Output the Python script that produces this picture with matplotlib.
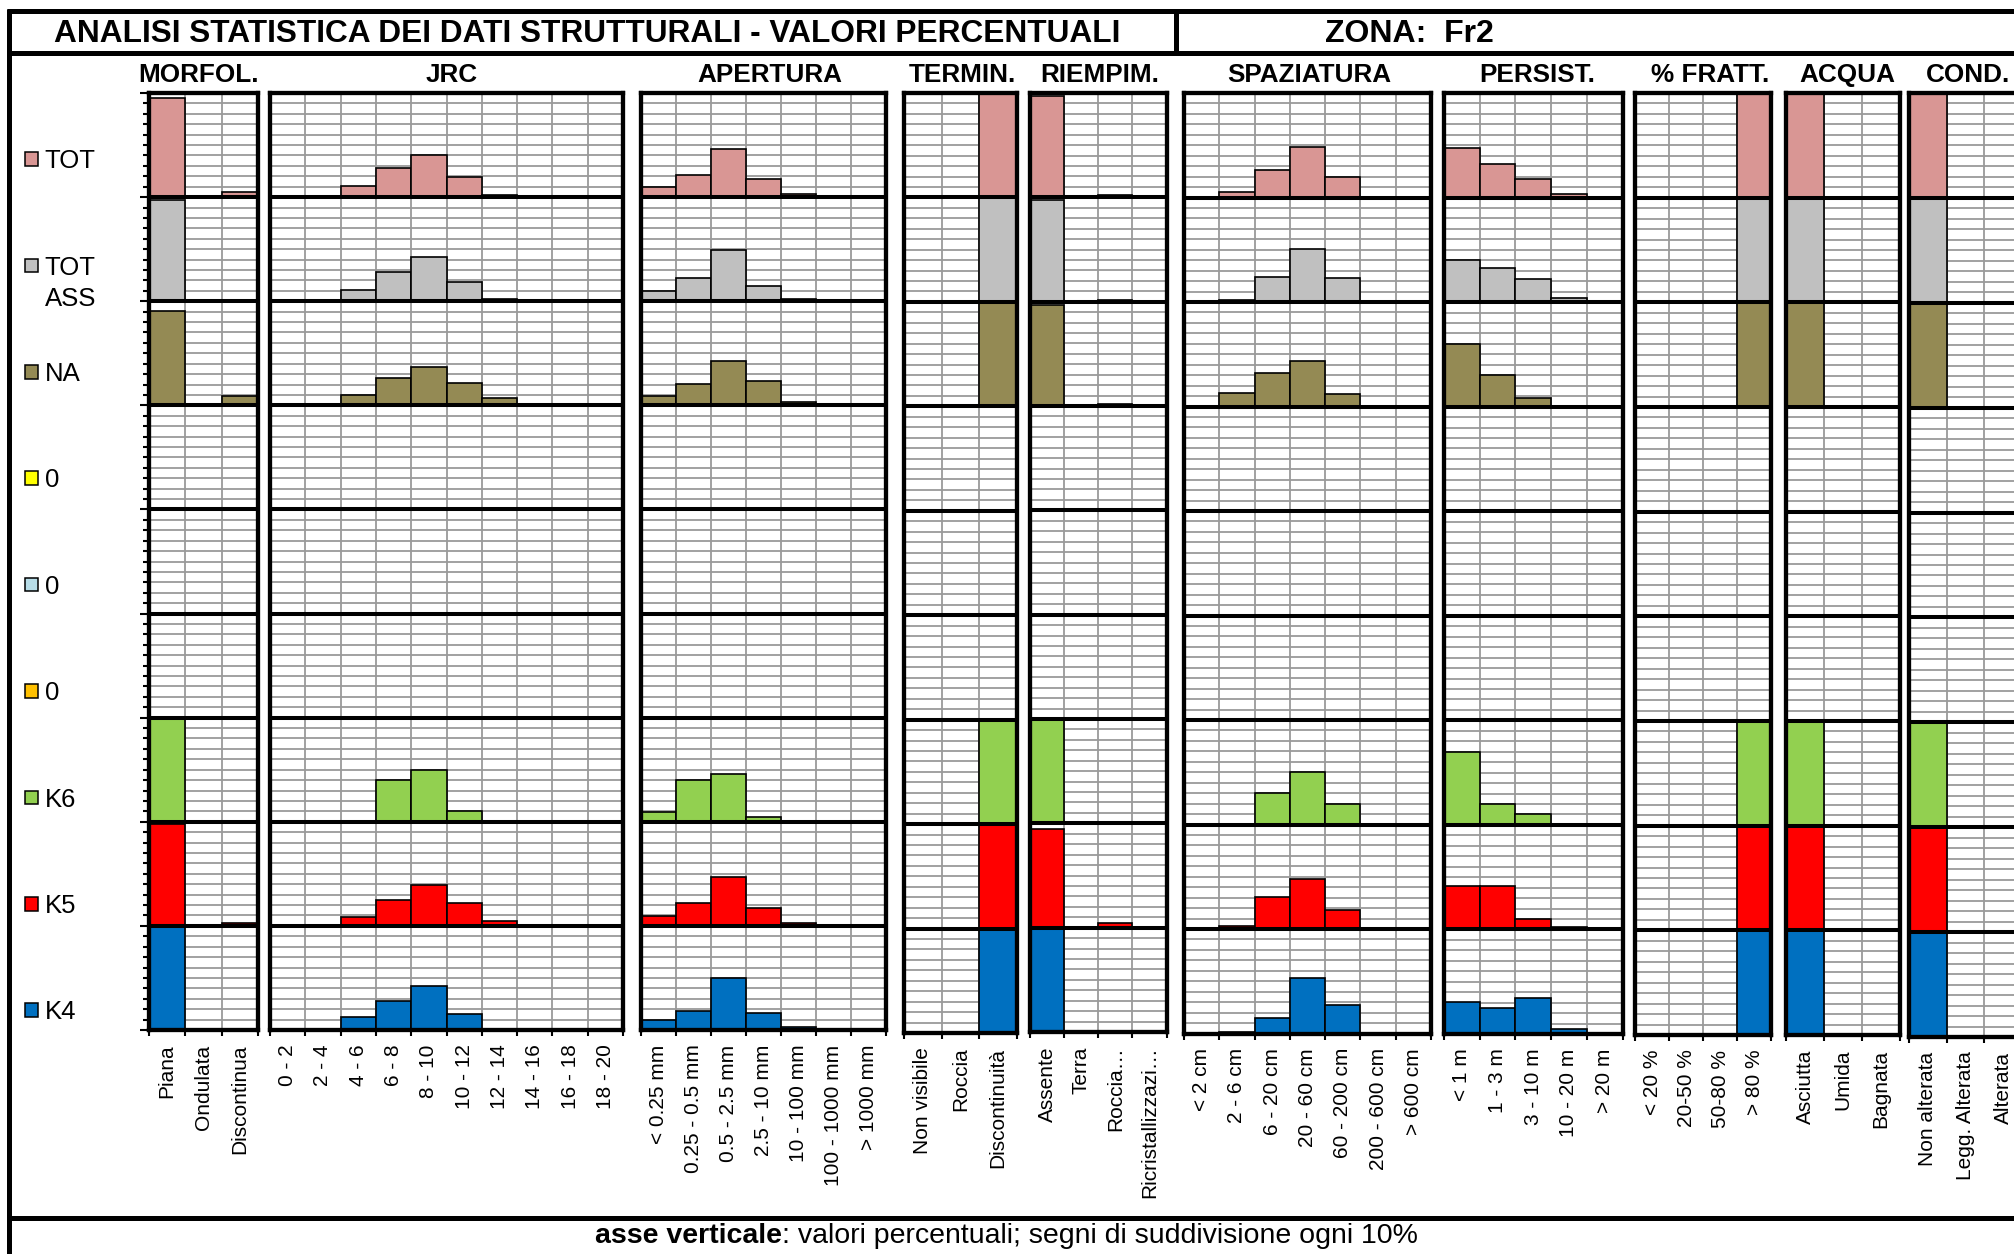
import matplotlib
matplotlib.use("Agg")
import matplotlib.pyplot as plt
from matplotlib.lines import Line2D
from matplotlib.patches import Rectangle
import numpy as np

plt.rcParams['font.family'] = ['Liberation Sans', 'DejaVu Sans']

# ---------------- data ----------------
TITLE = "ANALISI STATISTICA DEI DATI STRUTTURALI - VALORI PERCENTUALI"
ZONE = "ZONA:  Fr2"
FOOT_BOLD = "asse verticale"
FOOT_REST = ": valori percentuali; segni di suddivisione ogni 10%"

ROW_LABELS = ["TOT", "TOT\nASS", "NA", "0", "0", "0", "K6", "K5", "K4"]
ROW_COLORS = ["#D99694", "#C0C0C0", "#948A54", "#FFFF00", "#B7DDE8",
              "#FFC000", "#92D050", "#FF0000", "#0070C0"]

PANEL_TITLES = ["MORFOL.", "JRC", "APERTURA", "TERMIN.", "RIEMPIM.",
                "SPAZIATURA", "PERSIST.", "% FRATT.", "ACQUA", "COND."]

MORFOL_CATS = ["Piana", "Ondulata", "Discontinua"]
MORFOL_VALUES = [
    [95.5, 0, 4.5],
    [97.5, 0, 1.5],
    [91, 0, 8.5],
    [0, 0, 0],
    [0, 0, 0],
    [0, 0, 0],
    [100, 0, 0],
    [97.5, 0, 2.5],
    [98.5, 0, 1],
]

JRC_CATS = ["0 - 2", "2 - 4", "4 - 6", "6 - 8", "8 - 10", "10 - 12",
            "12 - 14", "14 - 16", "16 - 18", "18 - 20"]
JRC_VALUES = [
    [0, 0, 10.5, 27.5, 40.5, 19.5, 2.5, 0, 0, 0],
    [0, 0, 10.5, 28, 42.5, 18, 2, 0, 0, 0],
    [0, 0, 9.5, 26, 37, 21.5, 7, 0, 0, 0],
    [0, 0, 0, 0, 0, 0, 0, 0, 0, 0],
    [0, 0, 0, 0, 0, 0, 0, 0, 0, 0],
    [0, 0, 0, 0, 0, 0, 0, 0, 0, 0],
    [0, 0, 0, 40, 50, 10, 0, 0, 0, 0],
    [0, 0, 9, 25, 39, 22, 5, 0, 0, 0],
    [0, 0, 12.5, 27.5, 42, 15.5, 0, 0, 0, 0],
]

APERT_CATS = ["< 0.25 mm", "0.25 - 0.5 mm", "0.5 - 2.5 mm", "2.5 - 10 mm",
              "10 - 100 mm", "100 - 1000 mm", "> 1000 mm"]
APERT_VALUES = [
    [9.5, 21.5, 46.5, 17.5, 3, 0, 0],
    [9.5, 22.5, 49, 15, 2.5, 0, 0],
    [9, 20.5, 42.5, 23, 3.5, 0, 0],
    [0, 0, 0, 0, 0, 0, 0],
    [0, 0, 0, 0, 0, 0, 0],
    [0, 0, 0, 0, 0, 0, 0],
    [9.5, 40, 45.5, 5, 0, 0, 0],
    [9.5, 22, 47, 17, 3, 0, 0],
    [9.5, 18.5, 50, 16, 3, 0, 0],
]

TERMIN_CATS = ["Non visibile", "Roccia", "Discontinuità"]
TERMIN_VALUES = [
    [0, 0, 100],
    [0, 0, 100],
    [0, 0, 100],
    [0, 0, 0],
    [0, 0, 0],
    [0, 0, 0],
    [0, 0, 100],
    [0, 0, 100],
    [0, 0, 100],
]

RIEMP_CATS = ["Assente", "Terra", "Roccia…", "Ricristallizzazi…"]
RIEMP_VALUES = [
    [97, 0, 2.5, 0],
    [97.5, 0, 1.5, 0],
    [96.5, 0, 1.5, 0],
    [0, 0, 0, 0],
    [0, 0, 0, 0],
    [0, 0, 0, 0],
    [100, 0, 0, 0],
    [95, 0, 4.5, 0],
    [100, 0, 0, 0],
]

SPAZ_CATS = ["< 2 cm", "2 - 6 cm", "6 - 20 cm", "20 - 60 cm", "60 - 200 cm",
             "200 - 600 cm", "> 600 cm"]
SPAZ_VALUES = [
    [0, 5, 26.5, 48.5, 20, 0, 0],
    [0, 2, 23.5, 51, 23, 0, 0],
    [0, 12.5, 32, 43.5, 12, 0, 0],
    [0, 0, 0, 0, 0, 0, 0],
    [0, 0, 0, 0, 0, 0, 0],
    [0, 0, 0, 0, 0, 0, 0],
    [0, 0, 30, 50, 20, 0, 0],
    [0, 2.5, 30.5, 48, 18.5, 0, 0],
    [0, 1.5, 15, 53, 27, 0, 0],
]

PERS_CATS = ["< 1 m", "1 - 3 m", "3 - 10 m", "10 - 20 m", "> 20 m"]
PERS_VALUES = [
    [47, 32, 17.5, 3, 0],
    [40, 32.5, 22.5, 3.5, 0],
    [60, 30.5, 8, 1, 0],
    [0, 0, 0, 0, 0],
    [0, 0, 0, 0, 0],
    [0, 0, 0, 0, 0],
    [70, 20, 10, 0, 0],
    [41.5, 41.5, 10, 2.5, 0],
    [31, 25, 34, 4.5, 0],
]

FRATT_CATS = ["< 20 %", "20-50 %", "50-80 %", "> 80 %"]
FRATT_VALUES = [
    [0, 0, 0, 100],
    [0, 0, 0, 100],
    [0, 0, 0, 100],
    [0, 0, 0, 0],
    [0, 0, 0, 0],
    [0, 0, 0, 0],
    [0, 0, 0, 100],
    [0, 0, 0, 100],
    [0, 0, 0, 100],
]

ACQUA_CATS = ["Asciutta", "Umida", "Bagnata"]
ACQUA_VALUES = [
    [100, 0, 0],
    [100, 0, 0],
    [100, 0, 0],
    [0, 0, 0],
    [0, 0, 0],
    [0, 0, 0],
    [100, 0, 0],
    [100, 0, 0],
    [100, 0, 0],
]

COND_CATS = ["Non alterata", "Legg. Alterata", "Alterata"]
COND_VALUES = [
    [100, 0, 0],
    [100, 0, 0],
    [100, 0, 0],
    [0, 0, 0],
    [0, 0, 0],
    [0, 0, 0],
    [100, 0, 0],
    [100, 0, 0],
    [100, 0, 0],
]

PANEL_CATS = [MORFOL_CATS, JRC_CATS, APERT_CATS, TERMIN_CATS, RIEMP_CATS,
              SPAZ_CATS, PERS_CATS, FRATT_CATS, ACQUA_CATS, COND_CATS]
PANEL_VALUES = [MORFOL_VALUES, JRC_VALUES, APERT_VALUES, TERMIN_VALUES,
                RIEMP_VALUES, SPAZ_VALUES, PERS_VALUES, FRATT_VALUES,
                ACQUA_VALUES, COND_VALUES]

# ---------------- layout (pixels) ----------------
W, H = 2014, 1254
PANEL_X = [(149, 258), (270, 623), (641, 886), (904, 1017), (1030, 1166.5),
           (1184, 1431), (1444, 1622.5), (1635, 1771), (1786, 1900),
           (1909, 2022)]
PANEL_TOP = 93
PANEL_BOTTOM = [1030, 1030, 1030, 1033, 1032, 1033.5, 1034, 1035, 1035, 1037]
TITLE_CX = [198, 452, 770, 962, 1100, 1309, 1537, 1710, 1847, 1968]

GRID_GRAY = "#9a9a9a"

fig = plt.figure(figsize=(W / 100, H / 100), dpi=100)
fig.patch.set_facecolor("white")


def fx(x):
    return x / W


def fy(y):
    return 1 - y / H


# outer frame
for (xa, ya, xb, yb) in [(7, 11, W, 11), (9, 9, 9, H), (9, 52.5, W, 52.5),
                         (1176, 11, 1176, 52.5), (9, 1218, W, 1218)]:
    fig.add_artist(Line2D([fx(xa), fx(xb)], [fy(ya), fy(yb)], color="black",
                          lw=3.6, transform=fig.transFigure,
                          solid_capstyle="butt"))

fig.text(fx(54), fy(42), TITLE, fontsize=22.8, fontweight="bold",
         ha="left", va="baseline")
fig.text(fx(1325), fy(41.5), ZONE, fontsize=23, fontweight="bold",
         ha="left", va="baseline")

# row legend on the left
for i, (lab, col) in enumerate(zip(ROW_LABELS, ROW_COLORS)):
    yc = 159 + i * 106.4
    fig.add_artist(Rectangle((fx(24.5), fy(yc + 6.75)), 13.5 / W, 13.5 / H,
                             facecolor=col, edgecolor="black", lw=1.1,
                             transform=fig.transFigure))
    for j, line in enumerate(lab.split("\n")):
        fig.text(fx(44.5), fy(yc + 9.2 + j * 31), line, fontsize=18.5,
                 ha="left", va="baseline")

nrows = len(ROW_LABELS)
for p, (title, cats, vals) in enumerate(zip(PANEL_TITLES, PANEL_CATS,
                                            PANEL_VALUES)):
    x0, x1 = PANEL_X[p]
    y0, y1 = PANEL_TOP, PANEL_BOTTOM[p]
    ax = fig.add_axes([fx(x0), fy(y1), (x1 - x0) / W, (y1 - y0) / H])
    n = len(cats)
    ax.set_xlim(-0.5, n - 0.5)
    ax.set_ylim(0, 100 * nrows)
    ax.set_axisbelow(True)
    xs = np.arange(n)
    for r, (row_vals, col) in enumerate(zip(vals, ROW_COLORS)):
        base = 100 * (nrows - 1 - r)
        ax.bar(xs, row_vals, width=1.0, bottom=base, color=col,
               edgecolor="black", linewidth=1.2, zorder=2)
    for k in range(1, nrows):
        ax.axhline(100 * k, color="black", lw=2.9, zorder=3)

    # y grid / ticks
    ax.set_yticks(np.arange(0, 100 * nrows + 1, 100))
    ax.set_yticks(np.arange(0, 100 * nrows + 1, 10), minor=True)
    ax.yaxis.grid(True, which="minor", color=GRID_GRAY, lw=1.3)
    ax.set_yticklabels([])
    if p == 0:
        ax.tick_params(axis="y", which="major", direction="out", length=6.5,
                       width=1.5, color="black")
        ax.tick_params(axis="y", which="minor", direction="out", length=4.3,
                       width=1.5, color="black")
    else:
        ax.tick_params(axis="y", which="both", length=0)

    # x grid / ticks
    ax.set_xticks(np.arange(-0.5, n, 1.0))
    ax.set_xticklabels([])
    ax.set_xticks(xs, minor=True)
    ax.set_xticklabels(cats, minor=True, rotation=90, ha="center", va="top",
                       fontsize=15)
    ax.xaxis.grid(True, which="major", color=GRID_GRAY, lw=1.3)
    ax.tick_params(axis="x", which="major", direction="out", length=4.3,
                   width=1.5, color="black")
    ax.tick_params(axis="x", which="minor", length=0, pad=10.5)

    for s in ax.spines.values():
        s.set_linewidth(3.1)
        s.set_color("black")
        s.set_zorder(4)

    fig.text(fx(TITLE_CX[p]), fy(82), title, fontsize=18.8,
             fontweight="bold", ha="center", va="baseline")

# footer
t1 = fig.text(fx(595), fy(1243), FOOT_BOLD, fontsize=20.5, fontweight="bold",
              ha="left", va="baseline")
renderer = fig.canvas.get_renderer()
bb = t1.get_window_extent(renderer=renderer)
fig.text(bb.x1 / W, fy(1243), FOOT_REST, fontsize=20.5, ha="left",
         va="baseline")

fig.savefig("out.png", dpi=100)
